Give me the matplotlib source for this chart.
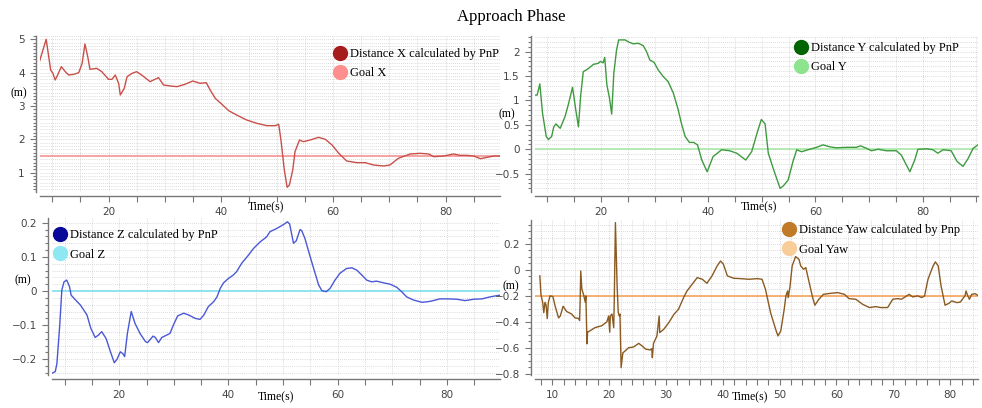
import matplotlib
matplotlib.use("Agg")
import matplotlib.pyplot as plt
from matplotlib.lines import Line2D
from matplotlib.ticker import MultipleLocator

# ---- data ----
t_x = [7.7, 8.9, 9.7, 10.1, 10.5, 10.8, 11.6, 12.3, 12.9, 13.8, 14.7, 15.3, 15.8, 16.3, 16.7,
       17.9, 18.8, 20.0, 20.6, 21.2, 21.8, 22.1, 22.8, 23.3, 24.2, 25.0, 25.9, 27.4, 28.0, 28.9,
       29.8, 31.0, 32.2, 33.6, 35.0, 36.3, 37.4, 38.1, 39.0, 40.0, 41.4, 42.8, 44.6, 46.4, 48.2,
       49.7, 50.3, 50.7, 51.3, 51.8, 52.2, 52.8, 53.2, 54.0, 54.7, 55.9, 57.4, 58.6, 59.8, 61.0,
       62.4, 64.2, 65.7, 67.2, 69.0, 70.1, 71.6, 73.7, 75.5, 77.0, 77.9, 79.7, 81.4, 82.6, 83.8,
       85.0, 86.2, 87.4, 88.6, 89.7]
dist_x = [4.33, 5.0, 4.08, 3.98, 3.78, 3.88, 4.18, 4.03, 3.93, 3.95, 4.0, 4.28, 4.86, 4.48, 4.1,
          4.13, 4.03, 3.8, 3.8, 3.93, 3.68, 3.33, 3.53, 3.88, 3.98, 4.03, 3.93, 3.73, 3.78, 3.85,
          3.63, 3.6, 3.58, 3.65, 3.75, 3.68, 3.7, 3.48, 3.23, 3.08, 2.86, 2.73, 2.58, 2.48, 2.41,
          2.41, 2.45, 1.98, 1.08, 0.56, 0.63, 1.08, 1.63, 1.98, 1.93, 1.98, 2.06, 2.0, 1.83, 1.58,
          1.35, 1.3, 1.3, 1.23, 1.2, 1.23, 1.43, 1.56, 1.58, 1.56, 1.48, 1.5, 1.56, 1.52, 1.52,
          1.5, 1.42, 1.46, 1.5, 1.5]
goal_x = 1.5

t_y = [7.7, 8.1, 8.6, 9.1, 9.8, 10.2, 10.8, 11.2, 11.6, 12.4, 13.3, 13.9, 14.7, 15.3, 15.8,
       16.2, 16.7, 17.5, 18.6, 19.5, 19.9, 20.4, 20.7, 21.1, 21.6, 22.0, 22.4, 22.9, 23.3, 24.5,
       25.1, 26.0, 27.0, 27.9, 28.5, 29.1, 29.9, 30.7, 31.6, 32.5, 33.5, 34.4, 35.0, 35.7, 36.5,
       37.3, 38.0, 38.8, 39.8, 40.9, 42.5, 44.0, 45.3, 47.0, 48.1, 49.1, 49.9, 50.6, 51.2, 52.2,
       53.4, 54.0, 54.9, 55.8, 56.5, 57.4, 58.6, 60.2, 61.4, 62.7, 63.9, 65.8, 67.6, 68.4, 69.5,
       70.4, 71.7, 73.2, 75.1, 76.0, 77.6, 78.5, 79.1, 80.7, 81.9, 82.8, 83.8, 85.3, 86.4, 87.5,
       88.4, 89.4, 90.3]
dist_y = [1.11, 1.11, 1.34, 0.74, 0.26, 0.2, 0.26, 0.46, 0.52, 0.43, 0.67, 0.91, 1.27, 0.81, 0.46,
          1.08, 1.59, 1.64, 1.74, 1.76, 1.8, 1.77, 1.88, 1.32, 1.04, 0.72, 1.56, 2.03, 2.24, 2.24,
          2.2, 2.16, 2.17, 2.12, 2.0, 1.83, 1.78, 1.62, 1.49, 1.39, 1.15, 0.81, 0.53, 0.26, 0.14,
          0.14, 0.09, -0.22, -0.46, -0.15, -0.01, -0.03, -0.08, -0.22, -0.05, 0.33, 0.61, 0.52, -0.08, -0.42,
          -0.8, -0.75, -0.63, -0.25, -0.01, -0.05, -0.01, 0.04, 0.09, 0.05, 0.03, 0.04, 0.04, 0.07, 0.02,
          -0.03, 0.0, -0.03, -0.03, -0.12, -0.46, -0.22, 0.0, 0.01, -0.01, -0.08, -0.01, -0.03, -0.25, -0.35,
          -0.2, 0.02, 0.09]
goal_y = 0.0

t_z = [7.7, 8.3, 8.6, 9.1, 9.5, 9.9, 10.4, 10.9, 11.2, 12.0, 12.9, 14.1, 14.8, 15.6, 16.2,
       16.8, 17.6, 18.4, 19.1, 19.6, 20.2, 20.7, 21.0, 21.5, 22.2, 22.9, 23.8, 24.8, 25.2, 26.2,
       26.6, 27.2, 27.8, 28.7, 29.3, 29.9, 30.7, 31.8, 32.7, 33.9, 34.8, 35.5, 36.3, 37.3, 37.9,
       38.5, 39.1, 40.0, 40.9, 41.5, 42.4, 43.4, 44.6, 45.8, 47.0, 47.6, 48.8, 50.1, 50.8, 51.2,
       51.9, 52.4, 53.1, 53.4, 54.0, 54.6, 55.5, 56.5, 57.1, 57.9, 58.6, 59.5, 60.4, 61.6, 62.6,
       63.5, 64.4, 65.3, 66.2, 67.1, 68.4, 69.6, 70.8, 71.7, 72.6, 73.8, 75.4, 76.6, 77.5, 78.7,
       80.2, 81.8, 83.3, 84.9, 86.4, 87.9, 89.7]
dist_z = [-0.241, -0.236, -0.212, -0.104, 0.003, 0.027, 0.032, 0.013, -0.012, -0.026, -0.041, -0.07,
          -0.109, -0.136, -0.129, -0.119, -0.139, -0.178, -0.21, -0.2, -0.178, -0.184, -0.192, -0.124,
          -0.06, -0.095, -0.124, -0.148, -0.151, -0.132, -0.136, -0.151, -0.136, -0.129, -0.124, -0.1,
          -0.073, -0.065, -0.07, -0.08, -0.083, -0.07, -0.046, -0.031, -0.017, 0.008, 0.024, 0.037,
          0.047, 0.057, 0.081, 0.1, 0.125, 0.144, 0.159, 0.174, 0.183, 0.195, 0.203, 0.196,
          0.14, 0.147, 0.18, 0.177, 0.154, 0.12, 0.071, 0.018, 0.001, -0.002, 0.008, 0.032,
          0.052, 0.066, 0.068, 0.061, 0.047, 0.032, 0.027, 0.029, 0.024, 0.02, 0.011, -0.002,
          -0.017, -0.026, -0.033, -0.031, -0.028, -0.023, -0.023, -0.024, -0.028, -0.024, -0.023,
          -0.017, -0.012]
goal_z = 0.0

t_yaw = [7.8, 8.0, 8.3, 8.5, 8.7, 8.9, 9.1, 9.3, 9.6, 10.1, 10.5, 11.1, 11.4, 11.9, 12.5,
         13.4, 14.0, 14.6, 14.8, 14.9, 15.0, 15.2, 15.5, 15.8, 15.9, 16.1, 16.2, 16.6, 17.5, 18.7,
         19.6, 19.9, 20.1, 20.2, 20.5, 20.8, 20.9, 21.1, 21.4, 21.6, 21.8, 21.9, 22.1, 22.4, 22.8,
         23.4, 24.3, 25.2, 25.8, 26.4, 27.2, 27.5, 27.6, 27.8, 28.4, 28.8, 28.9, 29.6, 30.5, 31.4,
         32.2, 33.1, 33.7, 34.6, 35.5, 36.4, 37.2, 38.1, 39.0, 39.6, 40.1, 40.8, 41.9, 43.1, 44.6,
         46.1, 46.9, 47.5, 48.4, 49.3, 49.7, 50.2, 50.8, 51.1, 51.4, 51.5, 51.8, 52.2, 52.8, 53.4,
         53.7, 54.2, 54.6, 55.2, 55.8, 56.2, 56.9, 57.7, 59.0, 60.2, 61.4, 62.2, 63.4, 64.6, 65.8,
         66.9, 67.8, 69.0, 69.9, 70.8, 71.4, 71.9, 72.8, 73.4, 74.3, 75.0, 75.5, 76.1, 77.0, 77.4,
         77.9, 78.4, 79.1, 79.8, 80.3, 81.2, 81.8, 82.6, 82.8, 83.1, 83.4, 83.8, 84.4, 85.0]
dist_yaw = [-0.046, -0.19, -0.25, -0.33, -0.25, -0.27, -0.375, -0.25, -0.2, -0.205, -0.28, -0.37,
            -0.355, -0.28, -0.32, -0.34, -0.37, -0.373, -0.39, -0.226, -0.008, -0.15, -0.19, -0.25,
            -0.2, -0.57, -0.48, -0.47, -0.445, -0.43, -0.4, -0.355, -0.48, -0.355, -0.34, -0.445,
            -0.226, 0.365, -0.123, -0.33, -0.355, -0.34, -0.753, -0.64, -0.625, -0.6, -0.594, -0.566,
            -0.586, -0.61, -0.617, -0.607, -0.676, -0.566, -0.51, -0.355, -0.483, -0.458, -0.406,
            -0.342, -0.303, -0.213, -0.162, -0.11, -0.059, -0.072, -0.103, -0.046, 0.031, 0.069,
            0.044, -0.046, -0.064, -0.067, -0.072, -0.067, -0.072, -0.149, -0.329, -0.458, -0.509,
            -0.47, -0.303, -0.2, -0.162, -0.213, -0.136, 0.031, 0.103, 0.082, 0.031, 0.005, 0.018,
            -0.098, -0.213, -0.272, -0.226, -0.188, -0.18, -0.175, -0.188, -0.221, -0.226, -0.265,
            -0.29, -0.283, -0.29, -0.29, -0.226, -0.221, -0.226, -0.213, -0.188, -0.208, -0.2,
            -0.213, -0.2, -0.072, 0.031, 0.062, 0.031, -0.123, -0.272, -0.257, -0.239, -0.252,
            -0.247, -0.2, -0.162, -0.2, -0.226, -0.188, -0.183, -0.2]
goal_yaw = -0.2

labels = [("Distance X calculated by PnP", "Goal X"),
          ("Distance Y calculated by PnP", "Goal Y"),
          ("Distance Z calculated by PnP", "Goal Z"),
          ("Distance Yaw calculated by Pnp", "Goal Yaw")]

W, H = 982, 408
serif = ["Liberation Serif", "DejaVu Serif"]

fig = plt.figure(figsize=(W / 100, H / 100), dpi=100)
fig.patch.set_facecolor("white")


def px_axes(l, t, r, b):
    return fig.add_axes([l / W, 1 - b / H, (r - l) / W, (b - t) / H])


def style(ax, xlim, ylim, xmaj, xmin, ymaj, ymin):
    ax.set_xlim(*xlim)
    ax.set_ylim(*ylim)
    for s in ("top", "right"):
        ax.spines[s].set_visible(False)
    for s in ("left", "bottom"):
        ax.spines[s].set_color("#777777")
        ax.spines[s].set_linewidth(1.0)
        ax.spines[s].set_position(("outward", 3))
    ax.xaxis.set_major_locator(MultipleLocator(xmaj))
    ax.xaxis.set_minor_locator(MultipleLocator(xmin))
    ax.yaxis.set_major_locator(MultipleLocator(ymaj))
    ax.yaxis.set_minor_locator(MultipleLocator(ymin))
    ax.tick_params(which="major", length=4, width=0.8, color="#777777",
                   labelsize=7.5, labelcolor="#444444", pad=4)
    ax.tick_params(which="minor", length=2.5, width=0.8, color="#777777")
    ax.tick_params(axis="x", which="minor", length=4)
    ax.grid(which="both", linestyle=(0, (1, 1.5)), color="#cfcfcf", linewidth=0.6)
    ax.set_axisbelow(True)
    ax.yaxis.set_major_formatter(plt.FuncFormatter(
        lambda v, p: ("%g" % round(v, 3)).replace("-", "\u2212")))


def legend(ax, names, c1, c2, x, y):
    handles = [Line2D([], [], ls="none", marker="o", ms=10, mfc=c1, mec=c1),
               Line2D([], [], ls="none", marker="o", ms=10, mfc=c2, mec=c2)]
    ax.legend(handles, names, loc="upper left", bbox_to_anchor=(x / W, 1 - y / H),
              bbox_transform=fig.transFigure, frameon=False, borderpad=0,
              borderaxespad=0, handlelength=1.0, handletextpad=0.3, labelspacing=0.6,
              prop={"family": serif, "size": 9})


# top-left: X
ax1 = px_axes(40, 36, 500, 192)
style(ax1, (7.8, 89.7), (0.42, 5.1), 20, 5, 1, 0.1)
ax1.axhline(goal_x, color="#f5a3a3", lw=1.4)
ax1.plot(t_x, dist_x, color="#c8504a", lw=1.0)
legend(ax1, labels[0], "#a61c1c", "#ff8f8f", 334, 48)

# top-right: Y
ax2 = px_axes(535, 36, 978, 192)
style(ax2, (7.7, 90.3), (-0.875, 2.32), 20, 5, 0.5, 0.1)
ax2.axhline(goal_y, color="#a8e6a8", lw=1.2)
ax2.plot(t_y, dist_y, color="#3f9a3f", lw=1.0)
legend(ax2, labels[1], "#006400", "#8ee38e", 795, 42)

# bottom-left: Z
ax3 = px_axes(52, 218, 500, 375)
style(ax3, (7.7, 89.7), (-0.246, 0.214), 20, 5, 0.1, 0.02)
ax3.axhline(goal_z, color="#8fe3ee", lw=1.4)
ax3.plot(t_z, dist_z, color="#4a58d6", lw=1.0)
legend(ax3, labels[2], "#08089a", "#8ee8f2", 54, 229)

# bottom-right: Yaw
ax4 = px_axes(535, 220, 978, 375)
style(ax4, (6.95, 84.9), (-0.81, 0.385), 10, 2, 0.2, 0.05)
ax4.axhline(goal_yaw, color="#f5a45a", lw=1.2)
ax4.plot(t_yaw, dist_yaw, color="#8a5a22", lw=1.0)
legend(ax4, labels[3], "#c07a28", "#f9cd98", 783, 224)

# axis captions
for (x, y) in [(19, 93), (507, 114), (23, 280), (511, 286)]:
    fig.text(x / W, 1 - y / H, "(m)", ha="center", va="center", family=serif, size=8.5)
for (x, y) in [(266, 207), (759, 207), (276, 397), (750, 397)]:
    fig.text(x / W, 1 - y / H, "Time(s)", ha="center", va="center", family=serif, size=8.5)

fig.text(511 / W, 1 - 17 / H, "Approach Phase", ha="center", va="center",
         family=serif, size=12)

fig.savefig("out.png", dpi=100)
